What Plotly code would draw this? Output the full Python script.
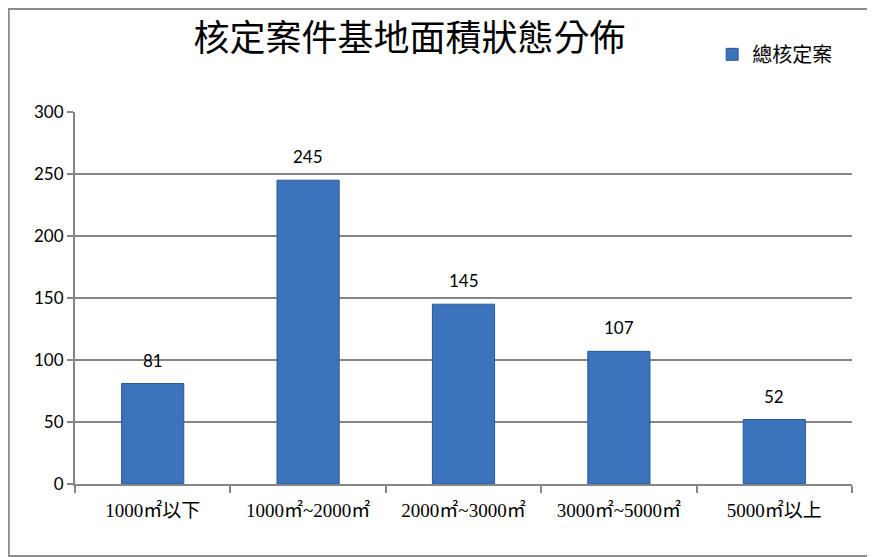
import plotly.graph_objects as go

# 核定案件基地面積狀態分佈
categories = ['1000㎡以下', '1000㎡~2000㎡', '2000㎡~3000㎡', '3000㎡~5000㎡', '5000㎡以上']
counts = [81, 245, 145, 107, 52]
y_ticks = [0, 50, 100, 150, 200, 250, 300]

# the page body has an 8px margin, so the figure is made 8px smaller
W, H = 867, 549
margin = dict(l=67, r=23, t=104, b=73)
pw = W - margin['l'] - margin['r']
ph = H - margin['t'] - margin['b']

fig = go.Figure()
fig.add_trace(go.Bar(
    x=categories, y=counts, name='總核定案',
    marker=dict(color='#3B73BD', line=dict(color='#2B5797', width=1)),
))

# value labels above the bars
for c, v in zip(categories, counts):
    fig.add_annotation(x=c, y=v, text=str(v), showarrow=False, yanchor='bottom', yshift=11,
                       font=dict(family='Lato, Liberation Sans, sans-serif', size=17, color='#000000'))

fig.update_layout(
    width=W, height=H, margin=margin,
    paper_bgcolor='white', plot_bgcolor='white',
    bargap=0.6, showlegend=True,
    title=dict(text='核定案件基地面積狀態分佈', x=0.463, xanchor='center', y=0.944, yanchor='middle',
               font=dict(family='Noto Sans CJK TC', size=36, color='#000000')),
    legend=dict(x=0.82, y=1.155, xanchor='left', yanchor='middle', bgcolor='rgba(0,0,0,0)',
                font=dict(family='Noto Sans CJK TC', size=20, color='#000000'), itemwidth=30),
    shapes=[dict(type='rect', xref='paper', yref='paper',
                 x0=-margin['l'] / pw + 0.001,
                 x1=1 + margin['r'] / pw - 0.002,
                 y0=-margin['b'] / ph + 0.003,
                 y1=1 + margin['t'] / ph - 0.003,
                 line=dict(color='#8C8C8C', width=2))],
)
fig.update_xaxes(
    showline=True, linecolor='#868686', linewidth=2,
    ticks='outside', tickson='boundaries', ticklen=7, tickcolor='#868686', tickwidth=2,
    ticklabelstandoff=8,
    tickfont=dict(family='Liberation Serif, Noto Sans CJK TC', size=19, color='#000000'),
    showgrid=False,
)
fig.update_yaxes(
    range=[0, 300], tickvals=y_ticks, ticksuffix='\u00a0\u00a0',
    showline=True, linecolor='#868686', linewidth=2,
    ticks='outside', ticklen=6, tickcolor='#868686', tickwidth=2,
    showgrid=True, gridcolor='#868686', gridwidth=2, zeroline=False,
    tickfont=dict(family='Lato, Liberation Sans, sans-serif', size=17, color='#000000'),
)

fig.write_html('out.html')
